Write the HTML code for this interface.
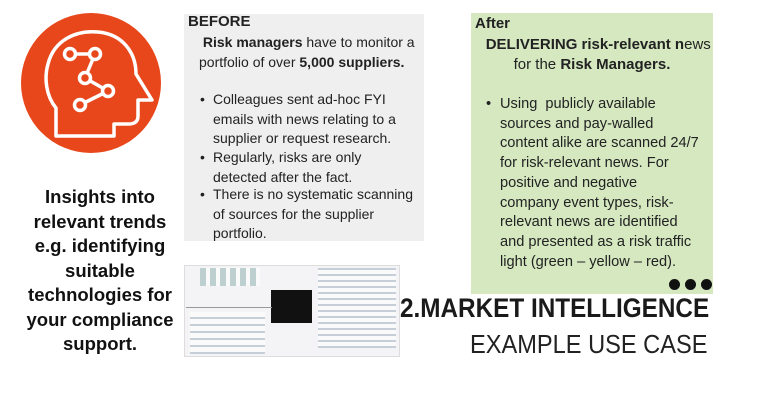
<!DOCTYPE html>
<html><head><style>
*{margin:0;padding:0;box-sizing:border-box}
body{width:768px;height:401px;background:#fff;position:relative;overflow:hidden;font-family:"Liberation Sans",sans-serif;color:#222}
.a{position:absolute;white-space:nowrap}
.b{font-size:14px;line-height:19.6px}
.g{font-size:14.6px;line-height:19.7px}
.lt{font-size:18.5px;font-weight:bold;line-height:24.5px;text-align:center;color:#111}
.dot{position:absolute;width:11px;height:11px;border-radius:50%;background:#111}
</style></head><body>
<svg class="a" style="left:20px;top:12px" width="142" height="142" viewBox="0 0 142 142">
<circle cx="71" cy="71" r="70" fill="#e8461b"/>
<g fill="none" stroke="#fff" stroke-width="3.5" stroke-linejoin="round">
<path d="M36 124 V96 C26 84 24 66 28 52 C34 28 56 18 78 20 C102 22 116 40 116 62 L132 88 H118 V104 C118 110 114 112 108 112 H94 V124 Z"/>
<path d="M50 42 L75 42 L65 66 L88 79 L60 93"/>
</g>
<g fill="#e8461b" stroke="#fff" stroke-width="3.5">
<circle cx="50" cy="42" r="5.5"/><circle cx="75" cy="42" r="5.5"/><circle cx="65" cy="66" r="5.5"/><circle cx="88" cy="79" r="5.5"/><circle cx="60" cy="93" r="5.5"/>
</g>
</svg>
<div class="a lt" style="left:0;width:200px;top:185px">Insights into<br>relevant trends<br>e.g. identifying<br>suitable<br>technologies for<br>your compliance<br>support.</div>

<div class="a" style="left:184px;top:14px;width:240px;height:227px;background:#efefef"></div>
<div class="a" style="left:188px;top:13px;font-size:15px;font-weight:bold;color:#222">BEFORE</div>
<div class="a b" style="left:199px;top:33px">&nbsp;<b>Risk managers</b> have to monitor a<br>portfolio of over <b>5,000 suppliers.</b></div>
<div class="a b" style="left:200px;top:90px">•</div>
<div class="a b" style="left:213px;top:90px">Colleagues sent ad-hoc FYI<br>emails with news relating to a<br>supplier or request research.</div>
<div class="a b" style="left:200px;top:148px">•</div>
<div class="a b" style="left:213px;top:148px">Regularly, risks are only<br>detected after the fact.</div>
<div class="a b" style="left:200px;top:185px">•</div>
<div class="a b" style="left:213px;top:185px">There is no systematic scanning<br>of sources for the supplier<br>portfolio.</div>

<div class="a" style="left:471px;top:13px;width:242px;height:281px;background:#d5e8c0"></div>
<div class="a" style="left:475px;top:15px;font-size:15px;font-weight:bold">After</div>
<div class="a g" style="left:471px;width:242px;text-align:center;top:35px;font-size:15px;line-height:20px">&nbsp;&nbsp;&nbsp;<b>DELIVERING risk-relevant n</b>ews<br>for the <b>Risk Managers.</b></div>
<div class="a g" style="left:486px;top:95px">•</div>
<div class="a g" style="left:500px;top:95px">Using&nbsp; publicly available<br>sources and pay-walled<br>content alike are scanned 24/7<br>for risk-relevant news. For<br>positive and negative<br>company event types, risk-<br>relevant news are identified<br>and presented as a risk traffic<br>light (green – yellow – red).</div>
<div class="dot" style="left:669px;top:279px"></div>
<div class="dot" style="left:685px;top:279px"></div>
<div class="dot" style="left:701px;top:279px"></div>

<div class="a" style="left:184px;top:265px;width:216px;height:92px;background:#f4f4f6;border:1px solid #ddd"></div>
<div class="a" style="left:271px;top:290px;width:41px;height:33px;background:#111"></div>
<div class="a" style="left:186px;top:307px;width:86px;height:1px;background:#999"></div>
<div class="a" style="left:200px;top:268px;width:60px;height:18px;background:repeating-linear-gradient(90deg,#8aa 0 6px,#fff 6px 10px);opacity:.5"></div>
<div class="a" style="left:318px;top:268px;width:78px;height:80px;background:repeating-linear-gradient(0deg,#9ab 0 2px,#fff 2px 6px);opacity:.5"></div>
<div class="a" style="left:190px;top:312px;width:75px;height:42px;background:repeating-linear-gradient(0deg,#9ab 0 2px,#fff 2px 7px);opacity:.5"></div>

<div class="a" style="left:400px;top:293px;font-size:27px;font-weight:bold;color:#1a1a1a;transform:scaleX(0.9);transform-origin:0 0">2.MARKET INTELLIGENCE</div>
<div class="a" style="left:470px;top:329px;font-size:26px;color:#222;transform:scaleX(0.908);transform-origin:0 0">EXAMPLE USE CASE</div>
</body></html>
